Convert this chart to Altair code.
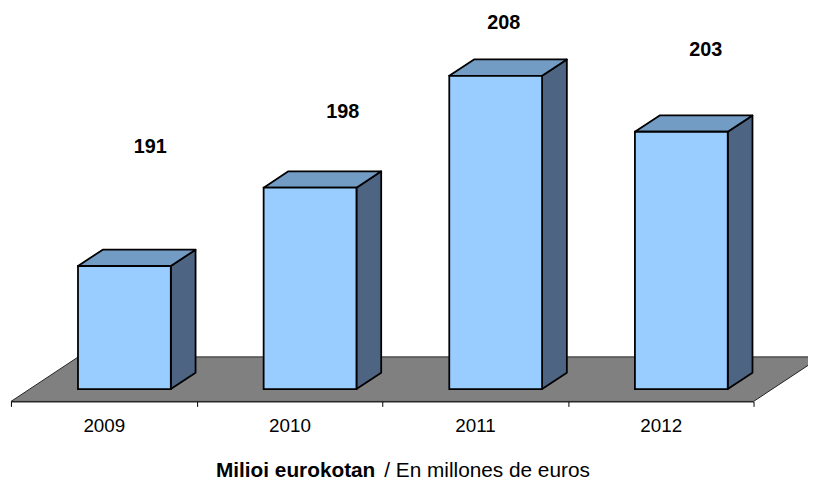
import altair as alt
import pandas as pd

# ---- data ----
years = ["2009", "2010", "2011", "2012"]
values = [191, 198, 208, 203]
value_labels = ["191", "198", "208", "203"]
# where the value labels sit (x in band units, y in value units)
label_x = [0.750, 1.787, 2.654, 3.742]
label_y = [201.6, 204.8, 212.7, 210.3]
title_bold = "Milioi eurokotan"
title_rest = "/ En millones de euros"

# ---- geometry / style constants ----
FONT = "Liberation Sans"
BASE = 180.0
PX_U = 187.5          # pixels per band
PX_V = 11.3           # pixels per value unit
W, H = 750, 395
DXB, DYB = 25 / PX_U, 16.5 / PX_V      # bar depth
DXF, DYF = 68 / PX_U, 45 / PX_V        # floor depth
FRONT_L, FRONT_R = 0.361, 0.861
FLOOR_Y = BASE - 12.5 / PX_V
Y_TOP = FLOOR_Y + H / PX_V

FRONT_C = "#99CCFF"
SIDE_C = "#4D6483"
TOP_C = "#739CC4"
FLOOR_C = "#808080"
EDGE = "black"
EW = 1.8

xs = alt.Scale(domain=[0, 4], nice=False, zero=False)
ys = alt.Scale(domain=[FLOOR_Y, Y_TOP], nice=False, zero=False)


def h_poly(rows, fill, stroke, sw):
    """Parallelogram with two horizontal edges (rows: y, x, x2)."""
    return alt.Chart(pd.DataFrame(rows)).mark_area(
        orient="horizontal", fill=fill, stroke=stroke, strokeWidth=sw,
        strokeJoin="round", clip=False
    ).encode(
        y=alt.Y("y:Q", scale=ys, axis=None, stack=None),
        x=alt.X("x:Q", scale=xs, axis=None, stack=None),
        x2="x2:Q",
    )


def v_poly(rows, fill, stroke, sw):
    """Parallelogram with two vertical edges (rows: x, hi, lo)."""
    return alt.Chart(pd.DataFrame(rows)).mark_area(
        orient="vertical", fill=fill, stroke=stroke, strokeWidth=sw,
        strokeJoin="round", clip=False
    ).encode(
        x=alt.X("x:Q", scale=xs, axis=None, stack=None),
        y=alt.Y("hi:Q", scale=ys, axis=None, stack=None),
        y2="lo:Q",
    )


layers = []

axis_layer = alt.Chart(pd.DataFrame({"year": years})).mark_bar(opacity=0).encode(
    x=alt.X(
        "year:N",
        sort=years,
        scale=alt.Scale(paddingInner=0, paddingOuter=0),
        axis=alt.Axis(
            title=None, tickBand="extent", labelAngle=0, labelFont=FONT,
            labelFontSize=19, labelColor="black", labelPadding=10,
            domainColor="black", domainWidth=1, tickColor="black",
            tickWidth=1, tickSize=5, grid=False,
        ),
    )
)
layers.append(axis_layer)

# floor
layers.append(h_poly([
    {"y": FLOOR_Y, "x": 0.0, "x2": 4.0},
    {"y": FLOOR_Y + DYF, "x": DXF, "x2": 4.0 + DXF},
], FLOOR_C, "#222222", 1))

front_rows = []
for i, (yr, v) in enumerate(zip(years, values)):
    xl, xr = i + FRONT_L, i + FRONT_R
    front_rows.append({"bar": yr, "x": xl, "x2": xr, "y": v, "y2": BASE})
    layers.append(v_poly([
        {"x": xr, "hi": v, "lo": BASE},
        {"x": xr + DXB, "hi": v + DYB, "lo": BASE + DYB},
    ], SIDE_C, EDGE, EW))
    layers.append(h_poly([
        {"y": v, "x": xl, "x2": xr},
        {"y": v + DYB, "x": xl + DXB, "x2": xr + DXB},
    ], TOP_C, EDGE, EW))

fronts = alt.Chart(pd.DataFrame(front_rows)).mark_rect(
    fill=FRONT_C, stroke=EDGE, strokeWidth=EW
).encode(
    x=alt.X("x:Q", scale=xs, axis=None),
    x2="x2:Q",
    y=alt.Y("y:Q", scale=ys, axis=None),
    y2="y2:Q",
)
layers.append(fronts)

labels = alt.Chart(pd.DataFrame({"lx": label_x, "ly": label_y, "t": value_labels})).mark_text(
    font=FONT, fontSize=20, fontWeight="bold", color="black", baseline="middle", align="center"
).encode(
    x=alt.X("lx:Q", scale=xs, axis=None),
    y=alt.Y("ly:Q", scale=ys, axis=None),
    text="t:N",
)
layers.append(labels)

t1 = alt.Chart(pd.DataFrame({"t": [title_bold]})).mark_text(
    font=FONT, fontSize=21, fontWeight="bold", color="black", align="right", baseline="alphabetic"
).encode(text="t:N", x=alt.value(368), y=alt.value(471))

t2 = alt.Chart(pd.DataFrame({"t": [title_rest]})).mark_text(
    font=FONT, fontSize=21, color="black", align="left", baseline="alphabetic"
).encode(text="t:N", x=alt.value(377), y=alt.value(471))
layers += [t1, t2]

chart = alt.layer(*layers).resolve_scale(
    x="independent"
).properties(
    width=W, height=H,
    autosize=alt.AutoSizeParams(type="none"),
    padding={"left": 3, "top": 0, "right": 55, "bottom": 80},
).configure_view(stroke=None)

chart.save("out.html", embed_options={"renderer": "svg", "actions": False})
